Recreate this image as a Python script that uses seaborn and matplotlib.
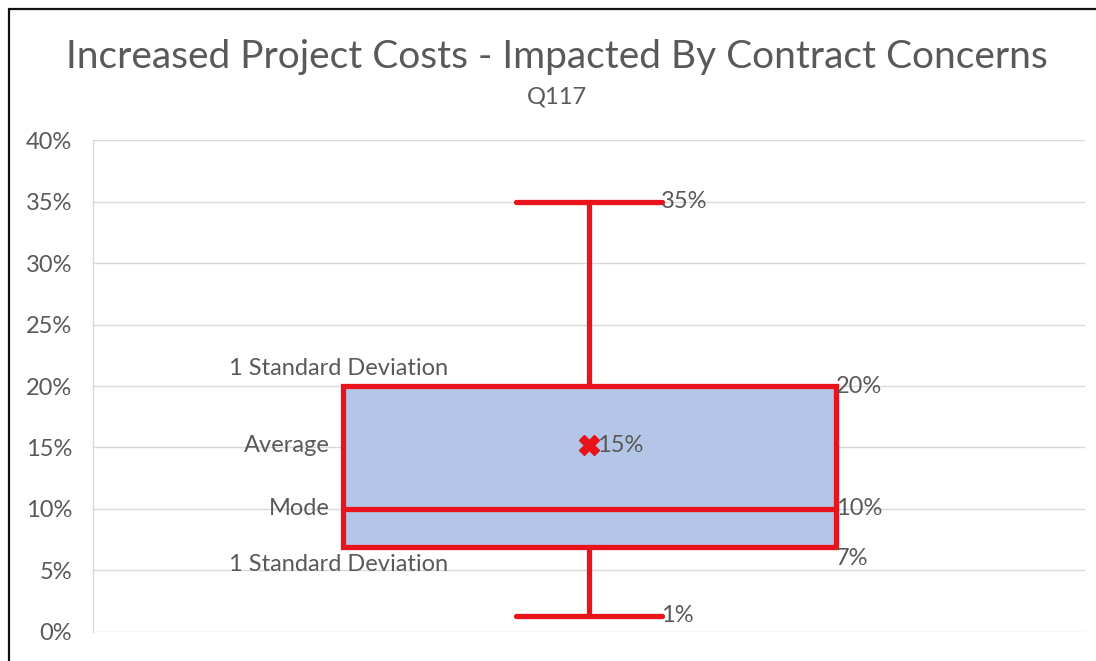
import matplotlib
matplotlib.use("Agg")
import matplotlib.pyplot as plt
from matplotlib.lines import Line2D
from matplotlib.ticker import PercentFormatter
import seaborn as sns

# summary stats (fractions)
stat_names = ["whislo", "q1", "med", "mean", "q3", "whishi"]
stat_values = [0.013, 0.069, 0.10, 0.152, 0.20, 0.35]
left_labels = ["1 Standard Deviation", "Average", "Mode", "1 Standard Deviation"]
y_ticks = [0, 0.05, 0.10, 0.15, 0.20, 0.25, 0.30, 0.35, 0.40]

RED = "#E8131B"
FILL = "#B4C6E7"
GREY = "#595959"

sns.set_theme(style="whitegrid")
plt.rcParams["font.family"] = ["Lato", "DejaVu Sans"]

fig = plt.figure(figsize=(10.96, 6.61), dpi=100)
ax = fig.add_axes([0.085, 0.044, 0.905, 0.744])

stats = dict(zip(stat_names, stat_values))
stats["fliers"] = []
ax.bxp([stats], positions=[1], widths=0.497, capwidths=0.148, showmeans=True,
       patch_artist=True,
       boxprops=dict(facecolor=FILL, edgecolor=RED, linewidth=3.8),
       medianprops=dict(color=RED, linewidth=3.8),
       whiskerprops=dict(color=RED, linewidth=3.8),
       capprops=dict(color=RED, linewidth=3.8),
       meanprops=dict(marker="X", markerfacecolor=RED, markeredgecolor=RED,
                      markersize=14))

ax.set_xlim(0.5, 1.5)
ax.set_ylim(0, 0.40)
ax.set_yticks(y_ticks)
ax.yaxis.set_major_formatter(PercentFormatter(1.0, decimals=0))
ax.set_xticks([])
ax.tick_params(axis="y", labelsize=17, labelcolor=GREY, pad=15, length=0)
ax.grid(axis="y", color="#D9D9D9", linewidth=1)
ax.grid(axis="x", visible=False)
for side in ["top", "right", "bottom"]:
    ax.spines[side].set_visible(False)
ax.spines["left"].set_color("#D9D9D9")
ax.spines["left"].set_linewidth(1)

s = stats
box_l, box_r = 1 - 0.497 / 2, 1 + 0.497 / 2
cap_r = 1 + 0.148 / 2
fmt = lambda v: f"{round(v * 100):.0f}%"
kw = dict(fontsize=17, color=GREY)

# value labels on the right
ax.annotate(fmt(s["whishi"]), (cap_r, s["whishi"]), xytext=(-1, 0), textcoords="offset points", ha="left", va="center", **kw)
ax.annotate(fmt(s["whislo"]), (cap_r, s["whislo"]), xytext=(-1, 0), textcoords="offset points", ha="left", va="center", **kw)
ax.annotate(fmt(s["q3"]), (box_r, s["q3"]), xytext=(0, 0), textcoords="offset points", ha="left", va="center", **kw)
ax.annotate(fmt(s["med"]), (box_r, s["med"]), xytext=(0, 0), textcoords="offset points", ha="left", va="center", **kw)
ax.annotate(fmt(s["q1"]), (box_r, s["q1"]), xytext=(0, -1), textcoords="offset points", ha="left", va="top", **kw)
ax.annotate(fmt(s["mean"]), (1, s["mean"]), xytext=(6, 0), textcoords="offset points", ha="left", va="center", **kw)

# descriptive labels on the left
ax.annotate(left_labels[0], (box_l, s["q3"]), xytext=(76, 5), textcoords="offset points", ha="right", va="bottom", **kw)
ax.annotate(left_labels[1], (box_l, s["mean"]), xytext=(-9, 0), textcoords="offset points", ha="right", va="center", **kw)
ax.annotate(left_labels[2], (box_l, s["med"]), xytext=(-9, 0), textcoords="offset points", ha="right", va="center", **kw)
ax.annotate(left_labels[3], (box_l, s["q1"]), xytext=(76, -5), textcoords="offset points", ha="right", va="top", **kw)

fig.text(0.508, 0.914, "Increased Project Costs - Impacted By Contract Concerns",
         ha="center", va="center", fontsize=28, color=GREY)
fig.text(0.508, 0.853, "Q117", ha="center", va="center", fontsize=17, color=GREY)

# frame on top and left edges of the picture
fig.lines.append(Line2D([0.008, 1.0], [0.987, 0.987], transform=fig.transFigure, color="#111111", linewidth=1.6))
fig.lines.append(Line2D([0.008, 0.008], [0.0, 0.987], transform=fig.transFigure, color="#111111", linewidth=1.6))

fig.savefig("out.png", dpi=100, facecolor="white")
